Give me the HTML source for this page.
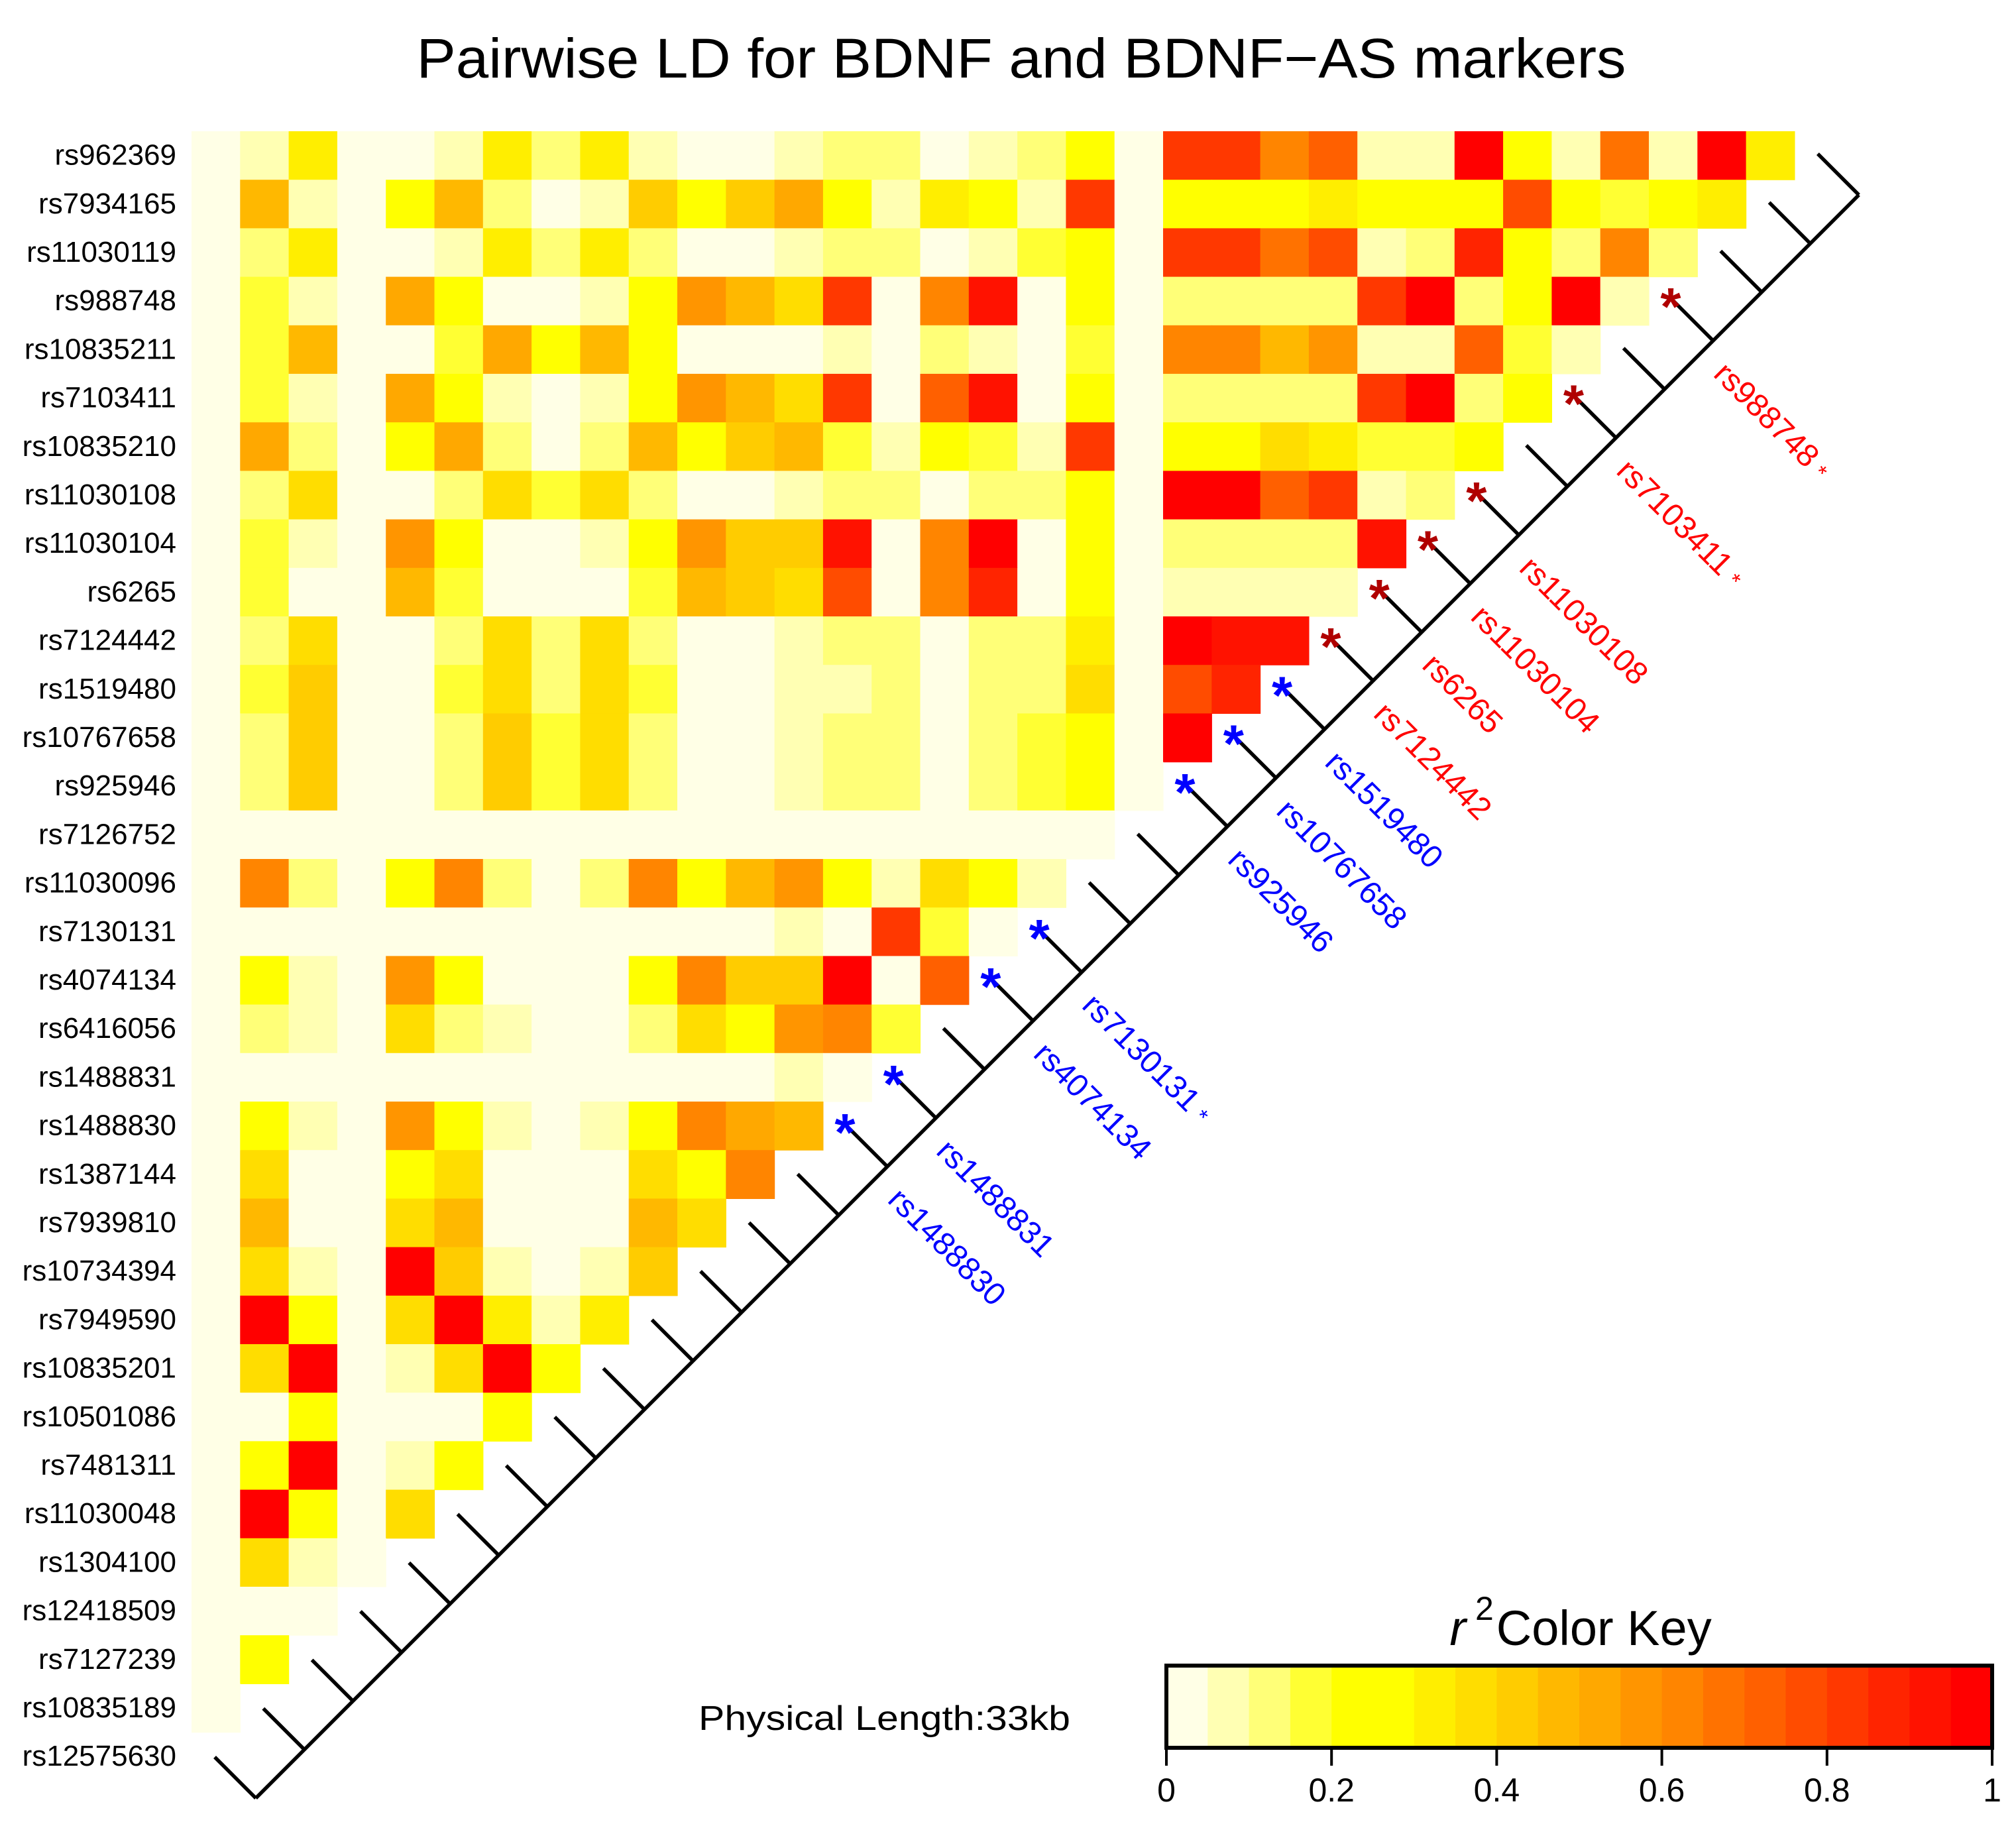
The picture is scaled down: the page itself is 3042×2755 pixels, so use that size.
<!DOCTYPE html>
<html><head><meta charset="utf-8"><style>
html,body{margin:0;padding:0;background:#fff;}
svg{display:block;font-family:"Liberation Sans",Arial,sans-serif;}
</style></head>
<body>
<svg id="chart" xmlns="http://www.w3.org/2000/svg" width="3042" height="2755" viewBox="0 0 3042 2755">
<rect x="0" y="0" width="3042" height="2755" fill="#fff"/>
<text x="1541" y="117" font-size="84" text-anchor="middle" textLength="1825" lengthAdjust="spacingAndGlyphs">Pairwise LD for BDNF and BDNF−AS markers</text>
<g id="cells"></g>
<g id="rowlabels"></g>
<g id="diag"></g>
<text x="1054" y="2610" font-size="52" textLength="561" lengthAdjust="spacingAndGlyphs">Physical Length:33kb</text>
<g id="key">
<text x="2385" y="2482" font-size="74" text-anchor="middle"><tspan font-style="italic">r</tspan><tspan dx="14" dy="-38" font-size="50">2</tspan><tspan dx="4" dy="38">Color Key</tspan></text>
</g>
</svg>
<script>
const markers=["rs962369","rs7934165","rs11030119","rs988748","rs10835211","rs7103411","rs10835210","rs11030108","rs11030104","rs6265","rs7124442","rs1519480","rs10767658","rs925946","rs7126752","rs11030096","rs7130131","rs4074134","rs6416056","rs1488831","rs1488830","rs1387144","rs7939810","rs10734394","rs7949590","rs10835201","rs10501086","rs7481311","rs11030048","rs1304100","rs12418509","rs7127239","rs10835189","rs12575630"];
const r2_row0=[.03,.08,.33,.03,.03,.08,.33,.13,.33,.08,.03,.03,.08,.13,.13,.03,.08,.13,.23,.03,.83,.83,.63,.73,.08,.08,.98,.23,.08,.68,.08,.98,.33];
const r2_row1=[.03,.48,.08,.03,.23,.48,.13,.03,.08,.43,.23,.43,.53,.23,.08,.33,.23,.08,.83,.03,.23,.23,.23,.33,.23,.23,.23,.78,.23,.18,.23,.33];
const r2_row2=[.03,.13,.33,.03,.03,.08,.33,.13,.33,.13,.03,.03,.08,.13,.13,.03,.08,.18,.23,.03,.83,.83,.68,.78,.08,.13,.88,.23,.13,.63,.13];
const r2_row3=[.03,.18,.08,.03,.53,.23,.03,.03,.08,.23,.58,.48,.38,.83,.03,.63,.93,.03,.23,.03,.13,.13,.13,.13,.83,.98,.13,.23,.98,.08];
const r2_row4=[.03,.18,.48,.03,.03,.18,.53,.23,.48,.23,.03,.03,.03,.08,.03,.13,.08,.03,.18,.03,.63,.63,.48,.58,.08,.08,.73,.18,.08];
const r2_row5=[.03,.18,.08,.03,.53,.23,.08,.03,.08,.23,.58,.48,.38,.83,.03,.73,.93,.03,.23,.03,.13,.13,.13,.13,.83,.98,.13,.23];
const r2_row6=[.03,.53,.13,.03,.23,.53,.13,.03,.13,.48,.23,.43,.48,.18,.08,.23,.18,.08,.83,.03,.23,.23,.38,.33,.18,.18,.23];
const r2_row7=[.03,.13,.38,.03,.03,.13,.38,.18,.38,.13,.03,.03,.08,.13,.13,.03,.13,.13,.23,.03,.98,.98,.73,.83,.08,.13];
const r2_row8=[.03,.18,.08,.03,.58,.23,.03,.03,.08,.23,.58,.43,.43,.93,.03,.63,.98,.03,.23,.03,.13,.13,.13,.13,.93];
const r2_row9=[.03,.18,.03,.03,.48,.18,.03,.03,.03,.18,.48,.43,.38,.78,.03,.63,.88,.03,.23,.03,.08,.08,.08,.08];
const r2_row10=[.03,.13,.38,.03,.03,.13,.38,.13,.38,.13,.03,.03,.08,.13,.13,.03,.13,.13,.33,.03,.98,.93,.93];
const r2_row11=[.03,.18,.43,.03,.03,.18,.38,.13,.38,.18,.03,.03,.08,.08,.13,.03,.13,.13,.38,.03,.78,.88];
const r2_row12=[.03,.13,.43,.03,.03,.13,.43,.18,.38,.13,.03,.03,.08,.13,.13,.03,.13,.18,.23,.03,.98];
const r2_row13=[.03,.13,.43,.03,.03,.13,.43,.18,.38,.13,.03,.03,.08,.13,.13,.03,.13,.18,.23,.03];
const r2_row14=[.03,.03,.03,.03,.03,.03,.03,.03,.03,.03,.03,.03,.03,.03,.03,.03,.03,.03,.03];
const r2_row15=[.03,.63,.13,.03,.23,.63,.13,.03,.13,.63,.23,.48,.58,.23,.08,.38,.23,.08];
const r2_row16=[.03,.03,.03,.03,.03,.03,.03,.03,.03,.03,.03,.03,.08,.03,.83,.18,.03];
const r2_row17=[.03,.23,.08,.03,.58,.23,.03,.03,.03,.23,.63,.43,.43,.98,.03,.73];
const r2_row18=[.03,.13,.08,.03,.38,.13,.08,.03,.03,.13,.38,.23,.58,.63,.18];
const r2_row19=[.03,.03,.03,.03,.03,.03,.03,.03,.03,.03,.03,.03,.08,.03];
const r2_row20=[.03,.23,.08,.03,.58,.23,.08,.03,.08,.23,.63,.53,.48];
const r2_row21=[.03,.38,.03,.03,.23,.38,.03,.03,.03,.38,.23,.63];
const r2_row22=[.03,.48,.03,.03,.38,.48,.03,.03,.03,.48,.38];
const r2_row23=[.03,.38,.08,.03,.98,.43,.08,.03,.08,.43];
const r2_row24=[.03,.98,.23,.03,.38,.98,.33,.08,.33];
const r2_row25=[.03,.38,.98,.03,.08,.38,.98,.23];
const r2_row26=[.03,.03,.23,.03,.03,.03,.23];
const r2_row27=[.03,.23,.98,.03,.08,.23];
const r2_row28=[.03,.98,.23,.03,.38];
const r2_row29=[.03,.38,.08,.03];
const r2_row30=[.03,.03,.03];
const r2_row31=[.03,.23];
const r2_row32=[.03];
const r2_rows=[r2_row0,r2_row1,r2_row2,r2_row3,r2_row4,r2_row5,r2_row6,r2_row7,r2_row8,r2_row9,r2_row10,r2_row11,r2_row12,r2_row13,r2_row14,r2_row15,r2_row16,r2_row17,r2_row18,r2_row19,r2_row20,r2_row21,r2_row22,r2_row23,r2_row24,r2_row25,r2_row26,r2_row27,r2_row28,r2_row29,r2_row30,r2_row31,r2_row32];
const blueMarkers=["rs1488830","rs1488831","rs4074134","rs7130131","rs925946","rs10767658","rs1519480"];
const redMarkers=["rs7124442","rs6265","rs11030104","rs11030108","rs7103411","rs988748"];
const starredMarkers=["rs7130131","rs7103411","rs988748"];
const keyTicks=[0,0.2,0.4,0.6,0.8,1];
const keyTickLabels=["0","0.2","0.4","0.6","0.8","1"];

const palette=["#FFFFE6","#FFFFB3","#FFFF78","#FFFF33","#FFFF00","#FFFF00","#FFEE00","#FFDD00","#FFCC00","#FFB800","#FFA800","#FF9500","#FF8500","#FF7200","#FF6000","#FF4C00","#FF3800","#FF2400","#FF1200","#FF0000"];
function colorOf(v){let i=Math.floor(v*20);if(i>19)i=19;if(i<0)i=0;return palette[i];}
const NS="http://www.w3.org/2000/svg";
const X0=289,Y0=198,CW=73.3,CH=73.2;
const xCol=c=>X0+c*CW, yRow=r=>Y0+r*CH;
function mk(tag,attrs,parent){const e=document.createElementNS(NS,tag);for(const k in attrs)e.setAttribute(k,attrs[k]);parent.appendChild(e);return e;}

const cells=document.getElementById('cells');
r2_rows.forEach((row,r)=>{row.forEach((v,c)=>{
  const e=mk('rect',{x:xCol(c).toFixed(2),y:yRow(r).toFixed(2),width:(CW+0.6).toFixed(2),height:(CH+0.6).toFixed(2),fill:colorOf(v)},cells);
  
  
});});

const rl=document.getElementById('rowlabels');
markers.forEach((m,r)=>{
  const t=mk('text',{x:266,y:(yRow(r)+CH/2+14).toFixed(1),'font-size':44,'text-anchor':'end'},rl);
  t.textContent=m;
  
  
});

const dg=document.getElementById('diag');
const n=markers.length;
const tx=i=>386+i*73.3, ty=i=>3099-tx(i);
const ln=mk('line',{x1:tx(0),y1:ty(0),x2:tx(n-1),y2:ty(n-1),stroke:'#000','stroke-width':5.5},dg);


for(let i=0;i<n;i++){
  const m=markers[n-1-i];
  const tk=mk('line',{x1:tx(i),y1:ty(i),x2:tx(i)-62,y2:ty(i)-62,stroke:'#000','stroke-width':5.5},dg);
  
  
  const isB=blueMarkers.includes(m), isR=redMarkers.includes(m);
  if(isB||isR){
    const st=mk('text',{x:tx(i)-64,y:ty(i)-62+38,'font-size':80,'text-anchor':'middle',fill:isB?'#0000FF':'#B00000','font-weight':'bold'},dg);
    st.textContent='*';
    
    
    const lb=mk('text',{x:36,y:38,'font-size':48,fill:isB?'#0000FF':'#FF0000',transform:'translate('+tx(i)+','+ty(i)+') rotate(45)'},dg);
    lb.textContent=m;
    if(starredMarkers.includes(m)){const sp=mk('tspan',{'font-size':34,dx:12},lb);sp.textContent='*';}
    
    
  }
}

const key=document.getElementById('key');
const KX0=1760,KX1=3006,KY0=2513,KY1=2637;
const kx=v=>KX0+v*(KX1-KX0);
palette.forEach((col,i)=>{
  const e=mk('rect',{x:kx(i/20).toFixed(2),y:KY0,width:((KX1-KX0)/20+0.6).toFixed(2),height:KY1-KY0,fill:col},key);
  
  
});
const kb=mk('rect',{x:KX0,y:KY0,width:KX1-KX0,height:KY1-KY0,fill:'none',stroke:'#000','stroke-width':6},key);


keyTicks.forEach((v,i)=>{
  const t=mk('line',{x1:kx(v),y1:KY1,x2:kx(v),y2:2664,stroke:'#000','stroke-width':4},key);
  
  
  const l=mk('text',{x:kx(v),y:2718,'font-size':50,'text-anchor':'middle'},key);
  l.textContent=keyTickLabels[i];
  
  
});
</script>
</body></html>
